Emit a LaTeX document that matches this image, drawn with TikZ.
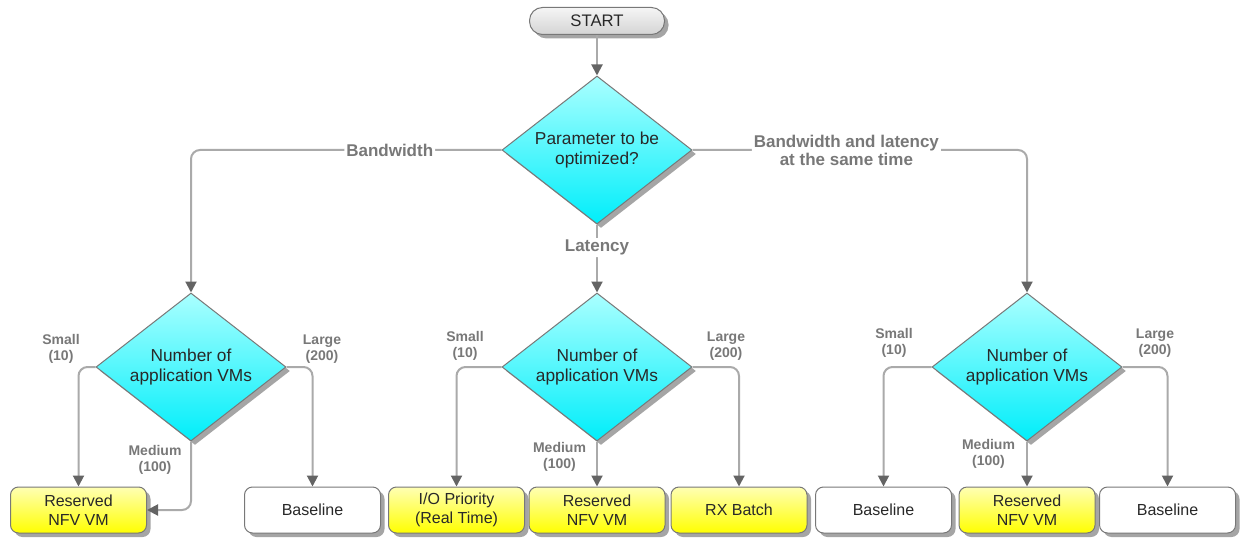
\documentclass[tikz,border=0pt]{standalone}
\usepackage{fontspec}
\setmainfont{Liberation Sans}
\usetikzlibrary{shapes.geometric,shadows,arrows.meta}
\definecolor{linegray}{RGB}{170,170,170}
\definecolor{tipgray}{RGB}{100,100,100}
\definecolor{bordergray}{RGB}{120,120,120}
\definecolor{labgray}{RGB}{120,120,120}
\definecolor{txt}{RGB}{40,40,40}
\definecolor{cyantop}{RGB}{170,255,255}
\definecolor{cyanbot}{RGB}{0,238,250}
\definecolor{yeltop}{RGB}{255,255,180}
\definecolor{yelbot}{RGB}{255,255,0}
\definecolor{starttop}{RGB}{245,245,245}
\definecolor{startbot}{RGB}{212,212,212}
\tikzset{
 shad/.style={drop shadow={shadow xshift=4pt,shadow yshift=-4pt,fill=black!50,opacity=0.7}},
 decision/.style={diamond, aspect=1.3, draw=bordergray, line width=1pt, minimum width=190pt, minimum height=148pt, inner sep=0pt, top color=cyantop, bottom color=cyanbot, shad, text=txt, align=center, font=\fontsize{17.3}{20}\selectfont},
 result/.style={rectangle, rounded corners=8pt, draw=bordergray, line width=1pt, minimum width=136pt, minimum height=46pt, inner sep=0pt, shad, text=txt, align=center, font=\fontsize{16}{19}\selectfont},
 yel/.style={result, top color=yeltop, bottom color=yelbot},
 wht/.style={result, fill=white},
 startbox/.style={rectangle, rounded corners=13pt, draw=bordergray, line width=1pt, minimum width=135pt, minimum height=27pt, inner sep=0pt, top color=starttop, bottom color=startbot, shad, text=txt, font=\fontsize{16.7}{19}\selectfont},
 conn/.style={draw=linegray, line width=2pt, rounded corners=9pt, -{Triangle[length=11pt,width=11pt,color=tipgray]}},
 blab/.style={text=labgray, font=\bfseries\fontsize{17}{18}\selectfont, fill=white, inner sep=2pt, align=center},
 slab/.style={text=labgray, font=\bfseries\fontsize{14}{16.5}\selectfont, align=center, inner sep=0pt},
}
\begin{document}
\begin{tikzpicture}[x=1pt,y=-1pt]
\useasboundingbox[fill=white] (0,0) rectangle (1241,540);
% nodes
\node[startbox] (start) at (597,21) {START};
\node[decision] (q0) at (597,150) {Parameter to be\\optimized?};
\node[decision] (dl) at (191,367) {Number of\\application VMs};
\node[decision] (dm) at (597,367) {Number of\\application VMs};
\node[decision] (dr) at (1027,367) {Number of\\application VMs};
\node[yel] (b1) at (78.5,510) {Reserved\\NFV VM};
\node[wht] (b2) at (312.5,510) {Baseline};
\node[yel] (b3) at (456.5,510) {I/O Priority\\(Real Time)};
\node[yel] (b4) at (597,510) {Reserved\\NFV VM};
\node[yel] (b5) at (739,510) {RX Batch};
\node[wht] (b6) at (883.5,510) {Baseline};
\node[yel] (b7) at (1027,510) {Reserved\\NFV VM};
\node[wht] (b8) at (1167.5,510) {Baseline};
% connectors
\draw[conn] (start.south) -- (q0.north);
\draw[conn] (q0.west) -| node[pos=0.18,blab]{Bandwidth} (dl.north);
\draw[conn] (q0.south) -- node[pos=0.34,blab]{Latency} (dm.north);
\draw[conn] (q0.east) -| node[pos=0.23,blab]{Bandwidth and latency\\at the same time} (dr.north);
\draw[conn] (dl.west) -| (b1.north);
\draw[conn] (dl.south) |- (b1.east);
\draw[conn] (dl.east) -| (b2.north);
\draw[conn] (dm.west) -| (b3.north);
\draw[conn] (dm.south) -- (b4.north);
\draw[conn] (dm.east) -| (b5.north);
\draw[conn] (dr.west) -| (b6.north);
\draw[conn] (dr.south) -- (b7.north);
\draw[conn] (dr.east) -| (b8.north);
% branch labels
\node[slab] (l1) at (61,349) {Small\\(10)};
\node[slab] (l2) at (322,349) {Large\\(200)};
\node[slab] (l3) at (155,460) {Medium\\(100)};
\node[slab] (l4) at (465,346) {Small\\(10)};
\node[slab] (l5) at (726,346) {Large\\(200)};
\node[slab] (l6) at (559.5,457) {Medium\\(100)};
\node[slab] (l7) at (894,343) {Small\\(10)};
\node[slab] (l8) at (1155,343) {Large\\(200)};
\node[slab] (l9) at (988.5,454) {Medium\\(100)};
\end{tikzpicture}
\end{document}
